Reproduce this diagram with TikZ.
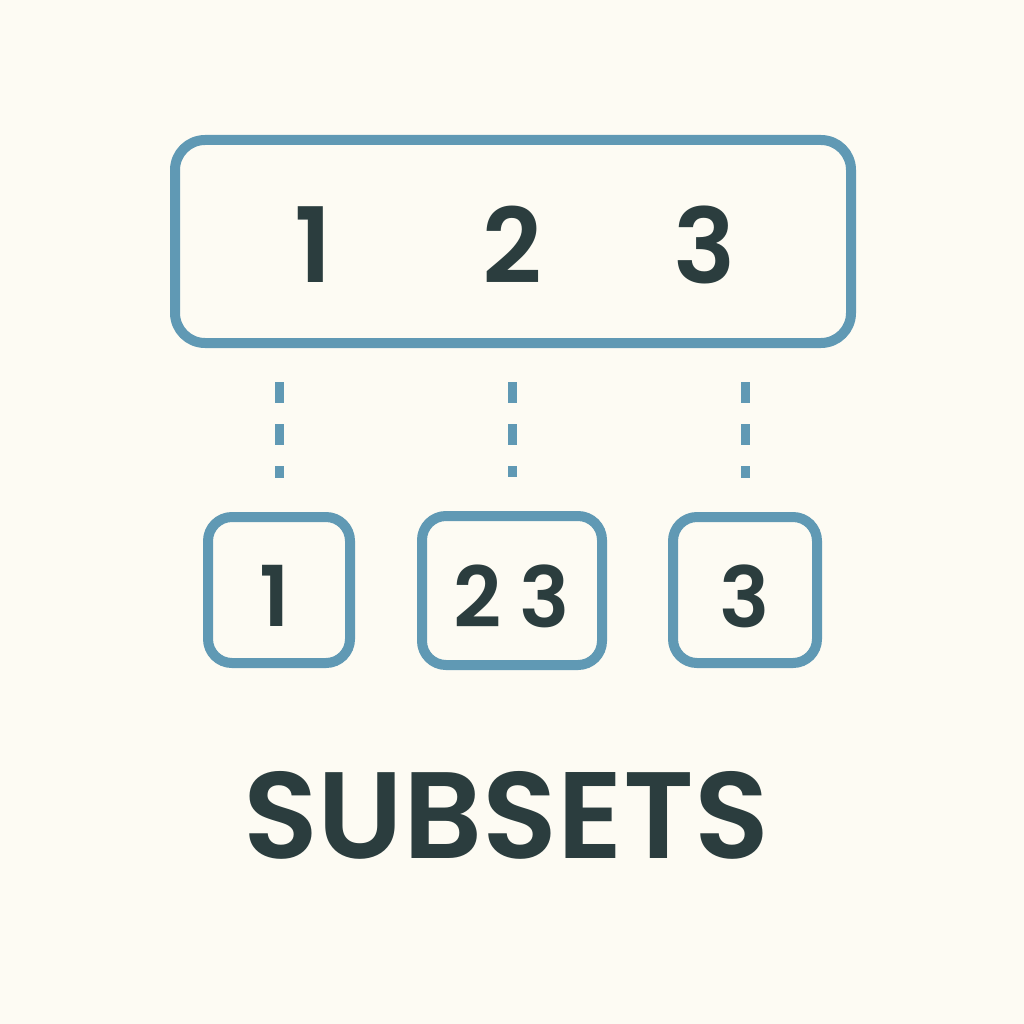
\documentclass[tikz,border=0pt]{standalone}
\usepackage{fontspec}
\setmainfont{Poppins}
\newfontfamily\popsb{Poppins}[UprightFont=* SemiBold]
\definecolor{bg}{HTML}{FDFBF3}
\definecolor{edge}{HTML}{6099B4}
\definecolor{ink}{HTML}{2B3D3E}
\begin{document}
\begin{tikzpicture}[x=1pt,y=-1pt,
  box/.style={draw=edge,line width=10pt,rounded corners=24pt,inner sep=0pt,fill=none},
  digit/.style={text=ink,inner sep=0pt},
  link/.style={draw=edge,line width=9pt,dash pattern=on 21pt off 21pt,shorten <=34pt,shorten >=34pt}]
\fill[bg] (0,0) rectangle (1024,1024);
\useasboundingbox (0,0) rectangle (1024,1024);
\node[box,rounded corners=30pt,minimum width=676pt,minimum height=203pt] (top) at (513,241.5) {};
\node[box,minimum width=142pt,minimum height=146pt] (b1) at (279,590) {};
\node[box,minimum width=180pt,minimum height=149pt] (b2) at (512,590.5) {};
\node[box,minimum width=144pt,minimum height=146pt] (b3) at (745,590) {};
\node[digit,font=\fontsize{104}{104}\selectfont\popsb] (t1) at (313,245) {1};
\node[digit,font=\fontsize{104}{104}\selectfont\popsb] (t2) at (512,245) {2};
\node[digit,font=\fontsize{104}{104}\selectfont\popsb] (t3) at (705,245) {3};
\node[digit,font=\fontsize{84}{84}\selectfont\popsb] (s1) at (275,596) {1};
\node[digit,font=\fontsize{84}{84}\selectfont\popsb] (s2) at (512,596) {2\hspace{18pt}3};
\node[digit,font=\fontsize{84}{84}\selectfont\popsb] (s3) at (745,596) {3};
\node[digit,font=\fontsize{123}{123}\selectfont\popsb] (title) at (506,815) {SUBSETS};
\draw[link] (top.south -| b1.north) -- (b1.north);
\draw[link] (top.south -| b2.north) -- (b2.north);
\draw[link] (top.south -| b3.north) -- (b3.north);
\end{tikzpicture}
\end{document}
